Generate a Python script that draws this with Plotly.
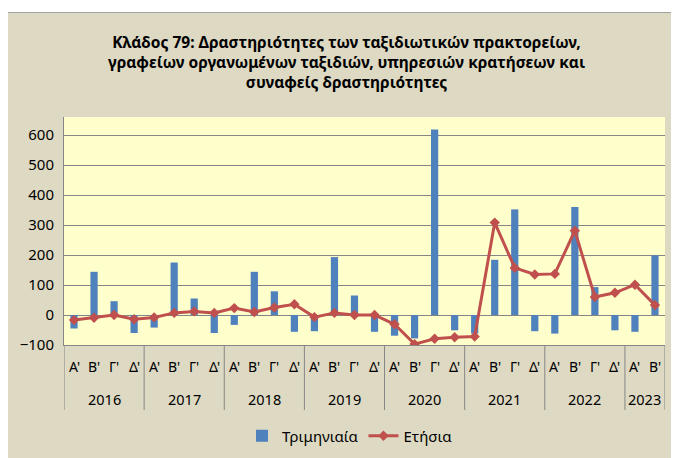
import plotly.graph_objects as go

years = ["2016"] * 4 + ["2017"] * 4 + ["2018"] * 4 + ["2019"] * 4 + ["2020"] * 4 + ["2021"] * 4 + ["2022"] * 4 + ["2023"] * 2
quarters = ["Α'", "Β'", "Γ'", "Δ'"] * 7 + ["Α'", "Β'"]
year_labels = ["2016", "2017", "2018", "2019", "2020", "2021", "2022", "2023"]

quarterly = [-45, 144, 46, -60,
             -42, 175, 55, -60,
             -33, 144, 79, -56,
             -54, 193, 65, -56,
             -69, -78, 618, -51,
             -62, 184, 352, -54,
             -62, 360, 93, -51,
             -56, 199]
annual = [-17, -9, 0, -14,
          -8, 7, 12, 7,
          23, 10, 25, 36,
          -7, 7, 0, 0,
          -31, -97, -79, -74,
          -72, 308, 157, 135,
          137, 281, 60, 74,
          101, 33]

cats = [f"{y} {q}" for y, q in zip(years, quarters)]

# page has an 8px body margin: work in page pixels, convert to figure pixels
OFF = 8
PW, PH = 679, 458
W, H = PW - OFF, PH - OFF
L, R, T, B = 64 - OFF, 665 - OFF, 117 - OFF, 345 - OFF
pw, ph = R - L, B - T
def px(x):  # page x -> paper fraction
    return (x - OFF - L) / pw
def py(y):  # page y -> paper fraction
    return (B - (y - OFF)) / ph

fnt = "Noto Sans"
grid = "#868686"

fig = go.Figure()
fig.add_trace(go.Bar(
    x=cats, y=quarterly, name="Τριμηνιαία",
    marker=dict(color="#4F81BD", line=dict(width=0)), width=0.36,
))
fig.add_trace(go.Scatter(
    x=cats, y=annual, name="Ετήσια", mode="lines+markers",
    line=dict(color="#C0504D", width=3),
    marker=dict(symbol="diamond", size=8, color="#C0504D"),
))

fig.update_layout(
    width=W, height=H,
    margin=dict(l=L, r=W - R, t=T, b=H - B, autoexpand=False),
    paper_bgcolor="#DDD9C3",
    plot_bgcolor="#FFFFCC",
    font=dict(family=fnt, size=14, color="#000000"),
    showlegend=True,
    legend=dict(orientation="h", x=px(350), xanchor="center", y=py(436), yanchor="middle",
                bgcolor="rgba(0,0,0,0)", font=dict(size=15, family=fnt), traceorder="normal"),
)
fig.update_yaxes(range=[-100, 660], dtick=100, tick0=0, showgrid=True, gridcolor=grid, gridwidth=1,
                 zeroline=False, showline=True, linecolor=grid, linewidth=1, automargin=False,
                 tickfont=dict(size=15, family=fnt), ticks="", ticklabelstandoff=6, fixedrange=True)
fig.update_xaxes(type="category", range=[-0.5, len(cats) - 0.5], showline=True, linecolor=grid,
                 linewidth=1, automargin=False, showticklabels=False, ticks="", showgrid=False)

# quarter labels (inner row)
for c, q in zip(cats, quarters):
    fig.add_annotation(x=c, y=py(366), xref="x", yref="paper", text=q, showarrow=False,
                       xanchor="center", yanchor="middle", font=dict(size=14, family=fnt))

# year labels (outer row) and dividers
start = 0
bounds = [-0.5]
for yl in year_labels:
    n = years.count(yl)
    centre = start + (n - 1) / 2
    fig.add_annotation(x=centre, y=py(399), xref="x", yref="paper", text=yl, showarrow=False,
                       xanchor="center", yanchor="middle", font=dict(size=14.5, family=fnt))
    start += n
    bounds.append(start - 0.5)
for b in bounds:
    fig.add_shape(type="line", xref="x", yref="paper", x0=b, x1=b, y0=0, y1=py(410),
                  line=dict(color=grid, width=1))

fig.add_annotation(
    text="<b>Κλάδος 79: Δραστηριότητες των ταξιδιωτικών πρακτορείων,<br>γραφείων οργανωμένων ταξιδιών, υπηρεσιών κρατήσεων και<br>συναφείς δραστηριότητες</b>",
    xref="paper", yref="paper", x=px(346), y=py(62), xanchor="center", yanchor="middle",
    showarrow=False, font=dict(size=15.5, family=fnt, color="#000000"), align="center",
)

# white outer strip at the top and frame border
fig.add_shape(type="rect", xref="paper", yref="paper", x0=px(0), x1=px(PW + 10), y0=py(12), y1=py(0),
              fillcolor="white", line=dict(width=0), layer="above")
fig.add_shape(type="line", xref="paper", yref="paper", x0=px(OFF), x1=px(PW + 10), y0=py(12.5), y1=py(12.5),
              line=dict(color="#A0A0A0", width=1), layer="above")

fig.write_html("out.html")
